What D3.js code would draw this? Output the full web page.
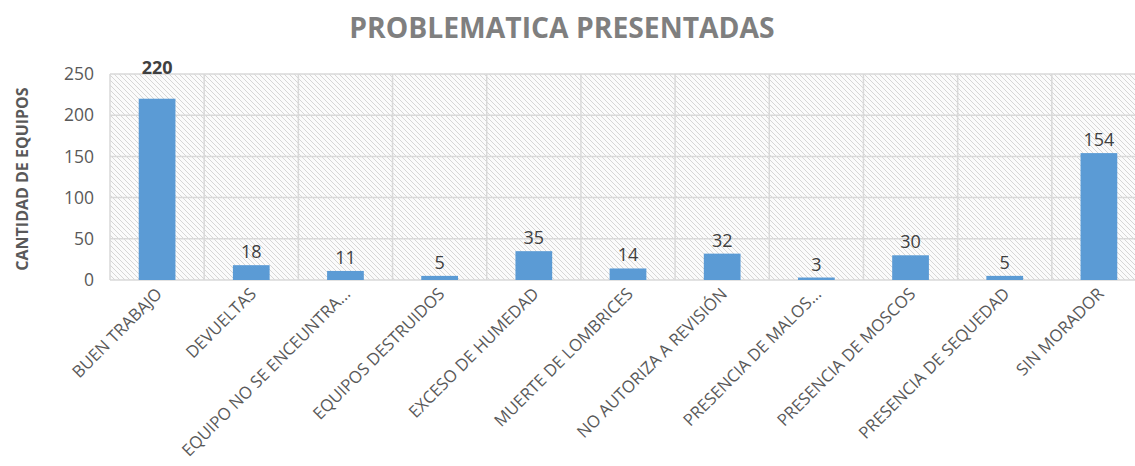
<!DOCTYPE html>
<html>
<head>
    <meta charset="utf-8">
    <title>Problematica presentadas</title>
    <script type="text/javascript" src="https://cdn.jsdelivr.net/npm/d3@7"></script>
    <style>
        body { margin: 0; background: #fff; }
        text { font-family: "Open Sans", sans-serif; }
    </style>
</head>
<body>
    <div id="chart_div"></div>
    <script type="text/javascript">
        // data
        const categories = ["BUEN TRABAJO", "DEVUELTAS", "EQUIPO NO SE ENCEUNTRA...", "EQUIPOS DESTRUIDOS",
            "EXCESO DE HUMEDAD", "MUERTE DE LOMBRICES", "NO AUTORIZA A REVISIÓN", "PRESENCIA DE MALOS...",
            "PRESENCIA DE MOSCOS", "PRESENCIA DE SEQUEDAD", "SIN MORADOR"];
        const values = [220, 18, 11, 5, 35, 14, 32, 3, 30, 5, 154];
        const yTicks = [0, 50, 100, 150, 200, 250];

        const width = 1135, height = 466;
        const plot = { left: 110, right: 1146, top: 74, bottom: 280 };

        let svg = d3.select("#chart_div").append("svg")
            .attr("width", width)
            .attr("height", height);

        // hatched plot background
        let defs = svg.append("defs");
        let pat = defs.append("pattern")
            .attr("id", "hatch")
            .attr("patternUnits", "userSpaceOnUse")
            .attr("width", 5)
            .attr("height", 5);
        pat.append("rect").attr("width", 5).attr("height", 5).attr("fill", "#fbfbfb");
        pat.append("path")
            .attr("d", "M-1,-1 L6,6 M-1,4 L1,6 M4,-1 L6,1")
            .attr("stroke", "#d6d6d6")
            .attr("stroke-width", 1);

        let x = d3.scaleBand()
            .domain(categories)
            .range([plot.left, plot.right])
            .padding(0);

        let y = d3.scaleLinear()
            .domain([0, 250])
            .range([plot.bottom, plot.top]);

        svg.append("rect")
            .attr("x", plot.left)
            .attr("y", plot.top)
            .attr("width", plot.right - plot.left)
            .attr("height", plot.bottom - plot.top)
            .attr("fill", "url(#hatch)");

        // horizontal gridlines
        svg.append("g")
            .selectAll("line")
            .data(yTicks)
            .enter().append("line")
            .attr("x1", plot.left)
            .attr("x2", plot.right)
            .attr("y1", d => y(d))
            .attr("y2", d => y(d))
            .attr("stroke", "#d9d9d9")
            .attr("stroke-width", 1.5);

        // vertical gridlines between categories
        svg.append("g")
            .selectAll("line")
            .data(categories)
            .enter().append("line")
            .attr("x1", d => x(d))
            .attr("x2", d => x(d))
            .attr("y1", plot.top)
            .attr("y2", plot.bottom)
            .attr("stroke", "#d9d9d9")
            .attr("stroke-width", 1.5);

        // y axis tick labels
        let yAxis = svg.append("g")
            .attr("transform", `translate(${plot.left - 16},0)`)
            .call(d3.axisLeft(y).tickValues(yTicks).tickSize(0).tickPadding(0));
        yAxis.select(".domain").remove();
        yAxis.selectAll("text")
            .attr("font-family", "'Open Sans', sans-serif")
            .attr("font-size", 17.5)
            .attr("fill", "#595959");

        // bars
        const barW = x.bandwidth() * 0.39;
        svg.append("g")
            .selectAll("rect")
            .data(values)
            .enter().append("rect")
            .attr("x", (d, i) => x(categories[i]) + (x.bandwidth() - barW) / 2)
            .attr("y", d => y(d))
            .attr("width", barW)
            .attr("height", d => y(0) - y(d))
            .attr("fill", "#5b9bd5");

        // value labels (the first one was dragged up, above the plot)
        svg.append("g")
            .selectAll("text")
            .data(values)
            .enter().append("text")
            .attr("x", (d, i) => x(categories[i]) + x.bandwidth() / 2)
            .attr("y", (d, i) => y(d) - (i === 0 ? 25 : 7))
            .attr("text-anchor", "middle")
            .attr("font-size", 18)
            .attr("font-weight", (d, i) => i === 0 ? "bold" : "normal")
            .attr("fill", "#404040")
            .text(d => d);

        // category labels, rotated
        svg.append("g")
            .selectAll("text")
            .data(categories)
            .enter().append("text")
            .attr("transform", d => `translate(${x(d) + x.bandwidth() / 2 + 6},${plot.bottom + 15}) rotate(-45)`)
            .attr("text-anchor", "end")
            .attr("font-size", 16.8)
            .attr("fill", "#595959")
            .text(d => d);

        // title
        svg.append("text")
            .attr("x", 562)
            .attr("y", 38)
            .attr("text-anchor", "middle")
            .attr("font-size", 28.3)
            .attr("font-weight", "bold")
            .attr("fill", "#7f7f7f")
            .text("PROBLEMATICA PRESENTADAS");

        // y axis title
        svg.append("text")
            .attr("transform", `translate(28,${(plot.top + plot.bottom) / 2 + 2}) rotate(-90)`)
            .attr("text-anchor", "middle")
            .attr("font-size", 16)
            .attr("font-weight", "bold")
            .attr("fill", "#595959")
            .text("CANTIDAD DE EQUIPOS");
    </script>
</body>
</html>
